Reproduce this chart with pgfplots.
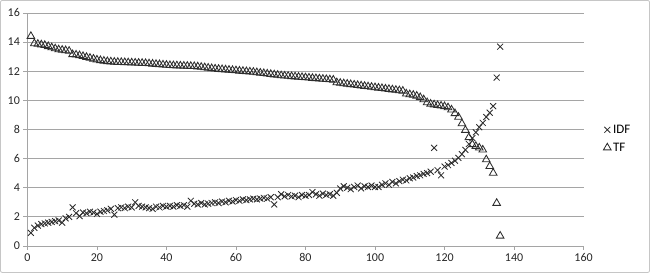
\documentclass[border=0pt]{standalone}
\usepackage{pgfplots}
\pgfplotsset{compat=1.18}
\usepackage{pgfplotstable}
\usepackage{fontspec}
\setmainfont{Carlito}
\definecolor{gridc}{RGB}{165,165,165}
\definecolor{markc}{RGB}{45,45,45}
\pgfplotstableread{
x y
1 0.90
2 1.25
3 1.40
4 1.50
5 1.55
6 1.60
7 1.65
8 1.70
9 1.75
10 1.60
11 1.90
12 2.00
13 2.65
14 2.25
15 2.05
16 2.30
17 2.25
18 2.35
19 2.30
20 2.20
21 2.35
22 2.40
23 2.45
24 2.55
25 2.15
26 2.60
27 2.65
28 2.60
29 2.70
30 2.65
31 3.00
32 2.75
33 2.70
34 2.65
35 2.60
36 2.55
37 2.70
38 2.65
39 2.75
40 2.70
41 2.75
42 2.70
43 2.80
44 2.75
45 2.80
46 2.70
47 3.10
48 2.90
49 2.85
50 2.95
51 2.85
52 2.90
53 2.95
54 3.00
55 2.95
56 3.05
57 3.00
58 3.10
59 3.05
60 3.15
61 3.10
62 3.20
63 3.15
64 3.20
65 3.25
66 3.20
67 3.25
68 3.30
69 3.25
70 3.35
71 2.85
72 3.35
73 3.55
74 3.40
75 3.50
76 3.40
77 3.45
78 3.35
79 3.50
80 3.45
81 3.50
82 3.70
83 3.55
84 3.45
85 3.60
86 3.50
87 3.55
88 3.45
89 3.65
90 3.95
91 4.10
92 4.00
93 3.90
94 4.05
95 4.15
96 3.95
97 4.10
98 4.05
99 4.15
100 4.05
101 4.05
102 4.20
103 4.30
104 4.20
105 4.40
106 4.30
107 4.45
108 4.55
109 4.50
110 4.65
111 4.70
112 4.80
113 4.85
114 4.95
115 5.00
116 5.10
117 6.74
118 5.20
119 4.85
120 5.45
121 5.55
122 5.70
123 5.85
124 6.05
125 6.30
126 6.60
127 7.00
128 7.40
129 7.80
130 8.15
131 8.45
132 8.85
133 9.15
134 9.60
135 11.56
136 13.68
}\idf
\pgfplotstableread{
x y
1 14.40
2 13.90
3 13.86
4 13.82
5 13.78
6 13.70
7 13.62
8 13.55
9 13.48
10 13.45
11 13.42
12 13.38
13 13.15
14 13.12
15 13.08
16 13.02
17 12.96
18 12.90
19 12.84
20 12.78
21 12.74
22 12.70
23 12.67
24 12.65
25 12.63
26 12.62
27 12.61
28 12.60
29 12.59
30 12.58
31 12.57
32 12.56
33 12.55
34 12.54
35 12.52
36 12.50
37 12.48
38 12.46
39 12.44
40 12.42
41 12.40
42 12.39
43 12.38
44 12.37
45 12.36
46 12.35
47 12.34
48 12.33
49 12.31
50 12.28
51 12.25
52 12.22
53 12.19
54 12.16
55 12.14
56 12.12
57 12.10
58 12.08
59 12.06
60 12.04
61 12.02
62 12.00
63 11.98
64 11.96
65 11.94
66 11.91
67 11.88
68 11.85
69 11.82
70 11.79
71 11.76
72 11.73
73 11.70
74 11.68
75 11.66
76 11.64
77 11.62
78 11.60
79 11.58
80 11.56
81 11.54
82 11.52
83 11.50
84 11.48
85 11.46
86 11.44
87 11.42
88 11.40
89 11.22
90 11.18
91 11.15
92 11.12
93 11.09
94 11.06
95 11.03
96 11.00
97 10.97
98 10.94
99 10.91
100 10.88
101 10.85
102 10.82
103 10.79
104 10.76
105 10.73
106 10.70
107 10.67
108 10.64
109 10.45
110 10.40
111 10.36
112 10.30
113 10.20
114 10.05
115 9.85
116 9.75
117 9.70
118 9.66
119 9.62
120 9.58
121 9.50
122 9.35
123 9.10
124 8.85
125 8.40
126 7.95
127 7.45
128 6.97
129 6.85
130 6.74
131 6.60
132 5.93
133 5.47
134 5.01
135 2.94
136 0.69
}\tf
\begin{document}
\begin{tikzpicture}
\draw[gray!45, line width=0.8pt, rounded corners=2pt] (0.5pt,0.5pt) rectangle (649.5pt,272.5pt);
\begin{axis}[
  at={(27.5pt,27pt)}, anchor=south west,
  width=556pt, height=233pt, scale only axis,
  xmin=0, xmax=160, ymin=0, ymax=16,
  xtick={0,20,...,160}, ytick={0,2,...,16},
  axis x line=bottom, axis y line=left,
  axis line style={gridc, -},
  ymajorgrids, grid style={gridc, line width=0.7pt},
  tick style={gridc, line width=0.7pt},
  major tick length=4pt,
  xtick align=outside, ytick align=outside,
  tick label style={font=\fontsize{12}{14}\selectfont, text=black!85},
  /pgf/number format/assume math mode=true,
  clip=false,
  legend style={at={(1.03,0.46)}, anchor=west, draw=none, fill=none,
    font=\fontsize{13}{15}\selectfont, row sep=4pt,
    legend cell align=left},
  legend entries={IDF,TF},
]
\addplot[only marks, mark=x, mark size=4.2pt, color=markc, line width=0.85pt] table[x=x,y=y] {\idf};
\addplot[only marks, mark=triangle, mark size=4.4pt, color=markc, line width=0.85pt, mark options={fill=white}] table[x=x,y=y] {\tf};
\end{axis}
\end{tikzpicture}
\end{document}
